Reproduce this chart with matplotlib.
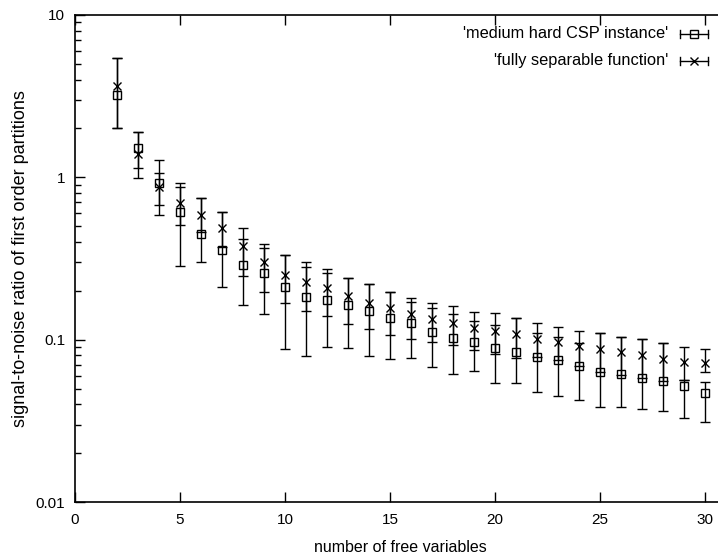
import matplotlib
matplotlib.use("Agg")
import matplotlib.pyplot as plt
from matplotlib.ticker import LogLocator, NullFormatter, FixedLocator, FixedFormatter
import numpy as np

plt.rcParams['font.family'] = ['Liberation Sans', 'DejaVu Sans']

x = list(range(2, 31))

# 'medium hard CSP instance' (squares)
csp_y = [3.20, 1.51, 0.92, 0.61, 0.446, 0.356, 0.29, 0.256, 0.21, 0.183, 0.175, 0.163,
         0.15, 0.1356, 0.1264, 0.111, 0.102, 0.0966, 0.0887, 0.0838, 0.078, 0.0748,
         0.0687, 0.063, 0.0613, 0.058, 0.0556, 0.0518, 0.0469]
csp_lo = [2.00, 0.985, 0.59, 0.283, 0.30, 0.21, 0.163, 0.1435, 0.0874, 0.079, 0.090, 0.0887,
          0.079, 0.0759, 0.0769, 0.0677, 0.0613, 0.064, 0.054, 0.054, 0.0475, 0.0449,
          0.0425, 0.0384, 0.0384, 0.0374, 0.0363, 0.0329, 0.031]
csp_hi = [5.40, 1.89, 1.07, 0.87, 0.75, 0.61, 0.415, 0.366, 0.331, 0.279, 0.256, 0.239,
          0.22, 0.196, 0.17, 0.156, 0.1435, 0.130, 0.123, 0.1356, 0.110, 0.1036,
          0.0948, 0.1096, 0.1036, 0.1007, 0.0951, 0.0563, 0.0547]

# 'fully separable function' (crosses)
sep_y = [3.63, 1.40, 0.87, 0.69, 0.59, 0.49, 0.376, 0.30, 0.249, 0.226, 0.207, 0.185,
         0.168, 0.156, 0.1435, 0.1337, 0.1264, 0.1178, 0.1128, 0.108, 0.1007, 0.0966,
         0.0912, 0.0874, 0.0838, 0.0803, 0.0759, 0.0728, 0.0716]
sep_lo = [2.00, 1.14, 0.68, 0.51, 0.46, 0.37, 0.246, 0.196, 0.169, 0.150, 0.1395, 0.1245,
          0.116, 0.1066, 0.1007, 0.0966, 0.0925, 0.0862, 0.0814, 0.0769, 0.078, 0.075,
          0.069, 0.063, 0.061, 0.058, 0.0556, 0.0563, 0.063]
sep_hi = [5.40, 1.89, 1.27, 0.92, 0.75, 0.61, 0.49, 0.39, 0.331, 0.30, 0.272, 0.239,
          0.22, 0.196, 0.18, 0.168, 0.161, 0.1477, 0.1456, 0.1356, 0.1264, 0.119,
          0.1128, 0.1096, 0.1036, 0.1007, 0.0951, 0.090, 0.0874]

labels = ["'medium hard CSP instance'", "'fully separable function'"]

# axes: x=0 at px 75, x=30 at px 705 -> x=31 at px 726 (right spine beyond the image edge)
fig = plt.figure(figsize=(7.18, 5.55), dpi=100)
ax_w = 651 / 718
ax = fig.add_axes([75/718, 1-502/555, ax_w, 487/555])

def draw(xv, yv, lo, hi, marker, ms, mfc):
    yv = np.array(yv); lo = np.array(lo); hi = np.array(hi)
    ax.errorbar(xv, yv, yerr=[yv - lo, hi - yv], fmt='none', ecolor='black',
                elinewidth=1.0, capsize=3.5, capthick=1.0)
    ax.plot(xv, yv, linestyle='none', marker=marker, ms=ms, mfc=mfc,
            mec='black', mew=1.0)

draw(x, csp_y, csp_lo, csp_hi, 's', 6, 'none')
draw(x, sep_y, sep_lo, sep_hi, 'x', 5.5, 'black')

ax.set_yscale('log')
ax.set_xlim(0, 31)
ax.set_ylim(0.01, 10)
ax.xaxis.set_major_locator(FixedLocator([0, 5, 10, 15, 20, 25, 30]))
ax.yaxis.set_major_locator(FixedLocator([0.01, 0.1, 1, 10]))
ax.yaxis.set_major_formatter(FixedFormatter(['0.01', '0.1', '1', '10']))
ax.yaxis.set_minor_locator(LogLocator(base=10, subs=np.arange(2, 10)))
ax.yaxis.set_minor_formatter(NullFormatter())
ax.tick_params(which='both', direction='in', top=True, right=False, labelsize=11)
ax.tick_params(axis='x', pad=8)
ax.tick_params(axis='y', pad=7)
ax.tick_params(which='major', length=7, width=1)
ax.tick_params(which='minor', length=4, width=1)
for s in ax.spines.values():
    s.set_linewidth(1.2)

ax.set_xlabel('number of free variables', fontsize=11.5, labelpad=9)
ax.set_ylabel('signal-to-noise ratio of first order partitions', fontsize=13, labelpad=5)

# gnuplot-style key, positions in axes fraction of the (wider) axes
def fx(px):
    return (px - 75) / 651

def fy(py):
    return (502 - py) / 487

markers = [('s', 6, 'none'), ('x', 5.5, 'black')]
for i, (lab, (mk, ms, mfc)) in enumerate(zip(labels, markers)):
    yy = fy([34, 61][i])
    ax.text(fx(668), yy, lab, transform=ax.transAxes, ha='right', va='center', fontsize=11.8)
    ax.plot([fx(680), fx(708)], [yy, yy], transform=ax.transAxes, color='black', lw=1.0,
            clip_on=False)
    for xe in (fx(680), fx(708)):
        ax.plot([xe, xe], [yy - 0.008, yy + 0.008], transform=ax.transAxes, color='black',
                lw=1.0, clip_on=False)
    ax.plot([fx(694)], [yy], transform=ax.transAxes, marker=mk, ms=ms, mfc=mfc, mec='black',
            mew=1.0, linestyle='none', clip_on=False)

fig.savefig('out.png', dpi=100)
